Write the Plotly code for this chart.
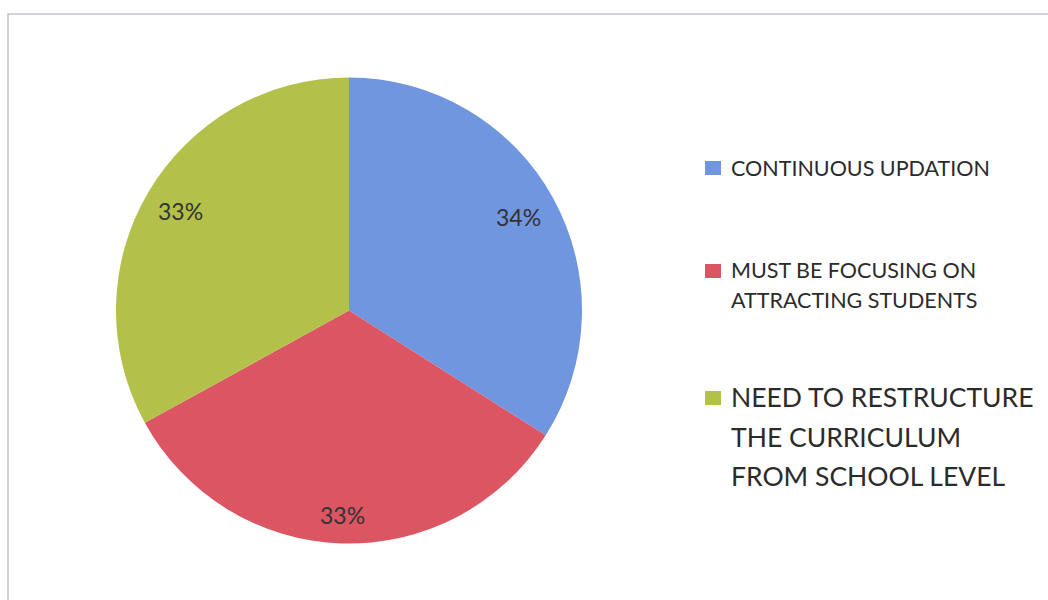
import math
import plotly.graph_objects as go

# Survey responses
categories = [
    "CONTINUOUS UPDATION",
    "MUST BE FOCUSING ON<br>ATTRACTING STUDENTS",
    "NEED TO RESTRUCTURE<br>THE CURRICULUM<br>FROM SCHOOL LEVEL",
]
values = [34, 33, 33]
colors = ["#7096df", "#db5563", "#b3c049"]

W, H = 1048, 600
cx, cy, r = 349, 310.5, 233  # pie centre and radius in pixels
FONT = "Lato, Open Sans, sans-serif"

fig = go.Figure(
    go.Pie(
        labels=categories,
        values=values,
        marker=dict(colors=colors, line=dict(width=0)),
        sort=False,
        direction="clockwise",
        rotation=0,
        textinfo="none",
        hoverinfo="label+percent",
        showlegend=False,
        domain=dict(
            x=[(cx - r) / W, (cx + r) / W],
            y=[(H - cy - r) / H, (H - cy + r) / H],
        ),
    )
)

# Percentage labels placed at each slice's mid angle
total = sum(values)
label_r = [0.83, 0.88, 0.84]
start = 0.0
annotations = []
for v, lr in zip(values, label_r):
    mid = (start + v / 2) / total * 2 * math.pi
    start += v
    px = cx + math.sin(mid) * r * lr
    py = cy - math.cos(mid) * r * lr
    annotations.append(dict(
        x=px / W, y=1 - py / H, xref="paper", yref="paper",
        text=f"{v / total:.0%}", showarrow=False,
        font=dict(family=FONT, size=23, color="#333333"),
        xanchor="center", yanchor="middle",
    ))

# Legend drawn as swatches and text, one annotation per text line
legend_lines_y = [[168], [270, 300], [397, 437, 476]]
legend_size = [21.5, 21.5, 26.5]
legend_square = [(705, 161), (705, 264), (705, 391)]
shapes = []
for lab, col, ys, fs, (sx, sy) in zip(categories, colors, legend_lines_y, legend_size, legend_square):
    shapes.append(dict(
        type="rect", xref="paper", yref="paper",
        x0=sx / W, x1=(sx + 16) / W, y0=1 - (sy + 14) / H, y1=1 - sy / H,
        fillcolor=col, line=dict(width=0),
    ))
    for line, ly in zip(lab.split("<br>"), ys):
        annotations.append(dict(
            x=729 / W, y=1 - ly / H, xref="paper", yref="paper",
            text=line, showarrow=False, align="left",
            xanchor="left", yanchor="middle",
            font=dict(family=FONT, size=fs, color="#2b2b2b"),
        ))

# Chart area frame
shapes.append(dict(
    type="rect", xref="paper", yref="paper",
    x0=8 / W, x1=1.01, y0=-0.01, y1=1 - 14 / H,
    line=dict(color="#c4c4cc", width=1.5), fillcolor="rgba(0,0,0,0)",
))

fig.update_layout(
    width=W, height=H,
    margin=dict(l=0, r=0, t=0, b=0),
    paper_bgcolor="white", plot_bgcolor="white",
    annotations=annotations, shapes=shapes,
)

fig.write_html("out.html")
